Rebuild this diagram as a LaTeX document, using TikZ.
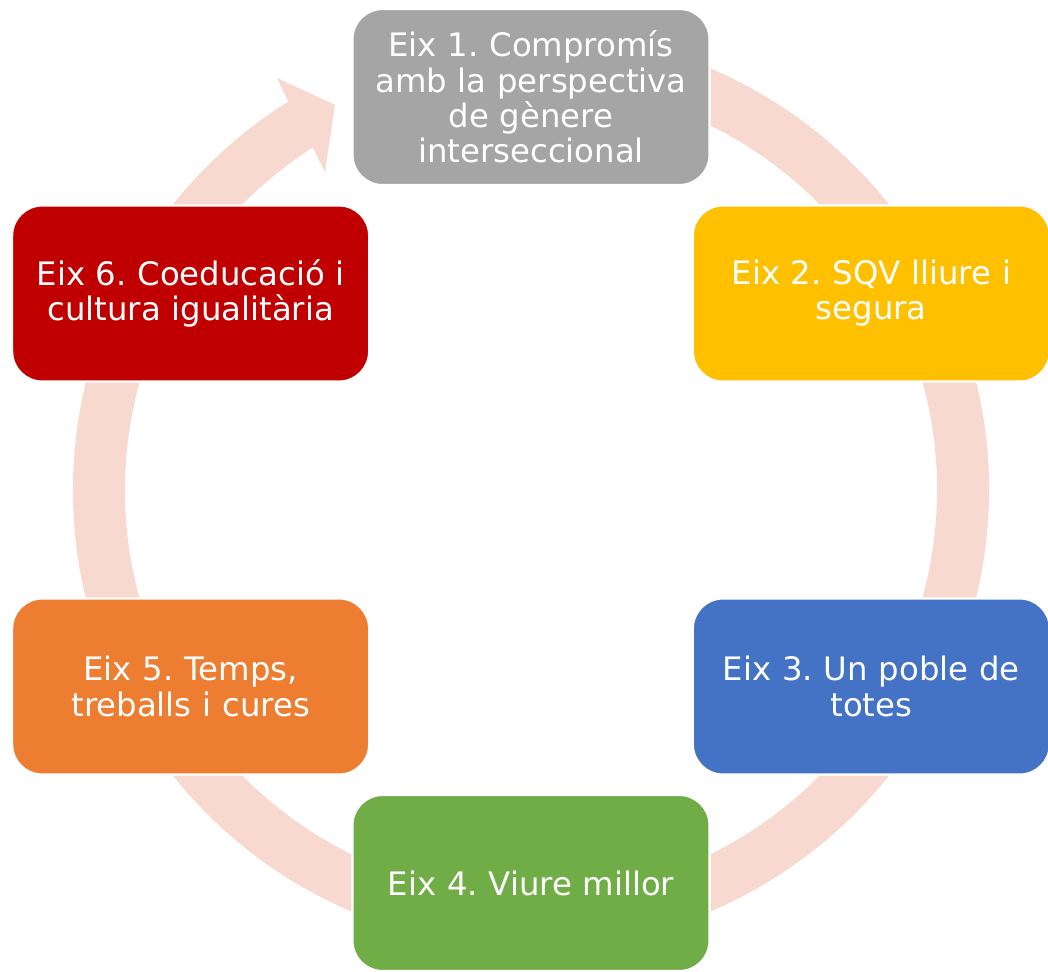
\documentclass[tikz,border=0pt]{standalone}
\usepackage{fontspec}
\setmainfont{DejaVu Sans}
\frenchspacing
\definecolor{ringc}{HTML}{F8D9CF}
\definecolor{c1}{HTML}{A5A5A5}
\definecolor{c2}{HTML}{FFC000}
\definecolor{c3}{HTML}{4472C4}
\definecolor{c4}{HTML}{70AD47}
\definecolor{c5}{HTML}{ED7D31}
\definecolor{c6}{HTML}{C00000}
\tikzset{
  axisbox/.style={draw=white, line width=1.2pt, rounded corners=0.6cm,
    minimum width=7.14cm, minimum height=3.52cm, inner sep=0pt,
    text=white, align=center, text width=6.9cm,
    font=\fontsize{18.4}{20}\selectfont\frenchspacing},
  ringarc/.style={draw=ringc, line width=1.04cm},
  ringhead/.style={fill=ringc, draw=none}
}
\begin{document}
\begin{tikzpicture}[scale=0.02]
\useasboundingbox (-531,-481) rectangle (517,490);
\clip (-531,-481) rectangle (517,490);
% ring
\draw[ringarc] (80:432) arc[start angle=80, end angle=-238, radius=432];
\coordinate (tip) at (-196,385);
\coordinate (wo) at (-254,412);
\coordinate (wi) at (-206,318);
\coordinate (so) at (-242,387);
\coordinate (si) at (-218,342);
\fill[ringhead] (so) -- (wo) -- (tip) -- (wi) -- (si) -- cycle;
% boxes
\node[axisbox, fill=c1] (b1) at (90:393) {Eix 1. Compromís\\amb la perspectiva\\de gènere\\interseccional};
\node[axisbox, fill=c2] (b2) at (30:393) {Eix 2. SQV lliure i\\segura};
\node[axisbox, fill=c3] (b3) at (-30:393) {Eix 3. Un poble de\\totes};
\node[axisbox, fill=c4] (b4) at (-90:393) {Eix 4. Viure millor};
\node[axisbox, fill=c5] (b5) at (-150:393) {Eix 5. Temps,\\treballs i cures};
\node[axisbox, fill=c6] (b6) at (150:393) {Eix 6. Coeducació i\\cultura igualitària};
\end{tikzpicture}
\end{document}
